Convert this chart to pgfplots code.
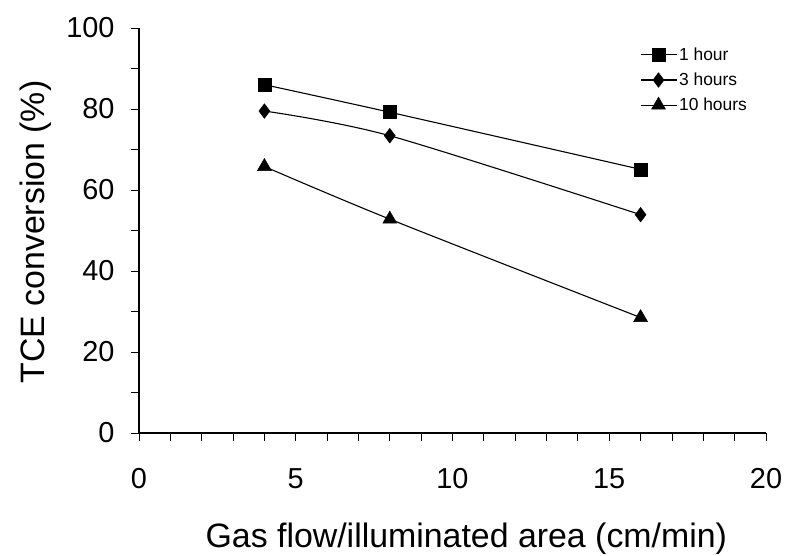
\documentclass[border=0pt]{standalone}
\usepackage{pgfplots}
\pgfplotsset{compat=1.18}
\usepackage{fontspec}
\setmainfont{Liberation Sans}
\begin{document}
\begin{tikzpicture}
\useasboundingbox (0,0) rectangle (787bp,556bp);
\begin{axis}[
  at={(139bp,123bp)}, anchor=south west,
  scale only axis, width=627bp, height=405bp,
  xmin=0, xmax=20, ymin=0, ymax=100,
  axis x line*=bottom, axis y line*=left,
  axis line style={line width=1.1bp, black},
  xtick={0,5,...,20}, ytick={0,20,...,100},
  minor x tick num=4, minor y tick num=1,
  tick align=outside,
  major tick length=8bp, minor tick length=8bp,
  tick style={line width=0.9bp, black},
  /pgf/number format/assume math mode=true,
  ticklabel style={font=\fontsize{29}{32}\selectfont},
  xticklabel style={yshift=-24bp},
  yticklabel style={xshift=-13bp},
  xlabel={Gas flow/illuminated area (cm/min)},
  ylabel={TCE conversion (\%)},
  label style={font=\fontsize{34}{38}\selectfont},
  xlabel style={at={(axis description cs:0.522,-0.2815)}, anchor=base},
  ylabel style={at={(axis description cs:-0.150,0.496)}, anchor=base},
  clip=false,
  legend style={at={(axis description cs:0.799,0.956)}, anchor=north west,
    draw=none, fill=none, inner sep=0pt, outer sep=0pt,
    font=\fontsize{17.5}{20}\selectfont, row sep=7bp,
    nodes={inner sep=2bp}},
  legend cell align=left,
  legend image code/.code={
    \draw[mark repeat=2,mark phase=2] plot coordinates {(0bp,0bp) (18bp,0bp) (36bp,0bp)};
  },
]
\addplot[black, line width=1.1bp, smooth, mark=square*, mark size=6.5bp, mark options={solid, line width=0.5bp}]
  coordinates {(4,86) (8,79.2) (16,65.1)};
\addlegendentry{1 hour}
\addplot[black, line width=1.1bp, smooth, mark=diamond*, mark size=7.3bp, mark options={solid, line width=0.5bp}]
  coordinates {(4,79.5) (8,73.4) (16,53.9)};
\addlegendentry{3 hours}
\addplot[black, line width=1.1bp, smooth, mark=triangle*, mark size=8bp, mark options={solid, line width=0.5bp}]
  coordinates {(4,65.8) (8,52.8) (16,28.5)};
\addlegendentry{10 hours}
\end{axis}
\end{tikzpicture}
\end{document}
